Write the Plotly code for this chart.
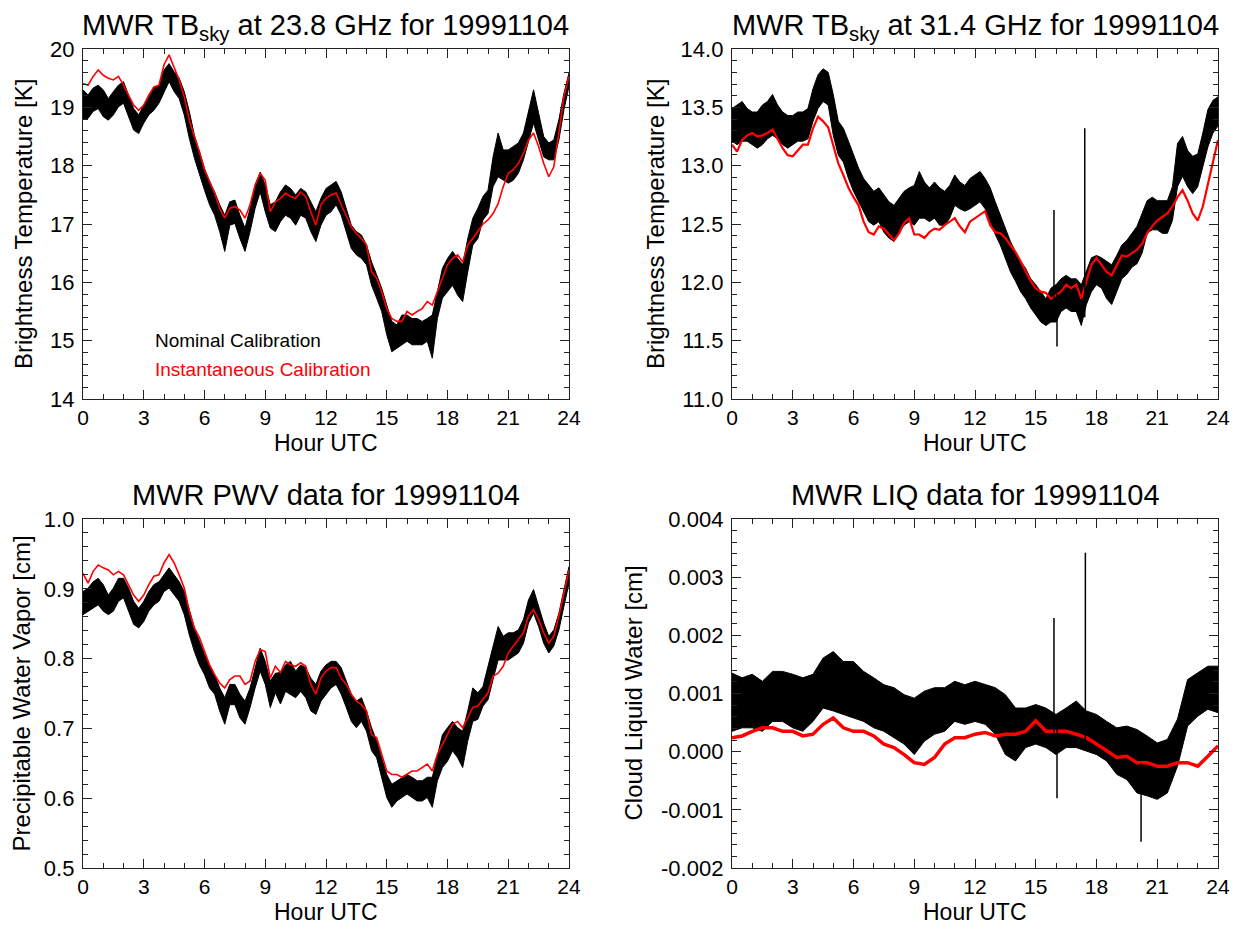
import numpy as np
import plotly.graph_objects as go

# ---------------- data ----------------
hours = np.arange(0, 24.01, 0.25)          # 0.25 h grid for panels 1-3
hours_liq = np.arange(0, 24.01, 0.5)       # 0.5 h grid for panel 4

# Panel 1: TBsky 23.8 GHz [K]  (nominal calibration shown as min/max envelope)
tb23_nom_hi = [19.30, 19.21, 19.33, 19.38, 19.30, 19.15, 19.27, 19.38,
               19.44, 19.21, 18.98, 18.87, 19.04, 19.18, 19.33, 19.38,
               19.64, 19.75, 19.61, 19.50, 19.27, 18.93, 18.52, 18.24,
               17.95, 17.73, 17.55, 17.33, 17.15, 17.38, 17.41, 17.15,
               16.93, 17.27, 17.67, 17.89, 17.67, 17.33, 17.38, 17.55,
               17.67, 17.61, 17.50, 17.61, 17.55, 17.38, 17.21, 17.44,
               17.61, 17.67, 17.73, 17.55, 17.27, 16.98, 16.87, 16.81,
               16.64, 16.35, 16.13, 15.90, 15.61, 15.33, 15.27, 15.44,
               15.44, 15.38, 15.38, 15.33, 15.38, 15.44, 15.84, 16.24,
               16.41, 16.53, 16.41, 16.30, 16.75, 17.10, 17.27, 17.47,
               17.58, 18.15, 18.56, 18.27, 18.27, 18.33, 18.39, 18.56,
               18.96, 19.30, 18.90, 18.50, 18.39, 18.44, 18.79, 19.24,
               19.59]
tb23_nom_lo = [18.80, 18.81, 18.93, 18.98, 18.84, 18.78, 18.87, 19.01,
               19.07, 18.84, 18.61, 18.55, 18.73, 18.87, 18.95, 19.07,
               19.27, 19.44, 19.27, 19.15, 18.87, 18.47, 18.13, 17.84,
               17.58, 17.33, 17.15, 16.87, 16.53, 16.98, 17.01, 16.75,
               16.53, 16.87, 17.27, 17.55, 17.21, 16.93, 16.87, 17.04,
               17.15, 17.10, 16.98, 17.15, 17.10, 16.87, 16.70, 16.98,
               17.15, 17.21, 17.33, 17.15, 16.87, 16.58, 16.47, 16.41,
               16.30, 15.95, 15.73, 15.50, 15.10, 14.81, 14.87, 14.93,
               14.99, 14.93, 14.93, 14.93, 14.99, 14.70, 15.38, 15.73,
               15.84, 15.95, 15.78, 15.67, 16.18, 16.64, 16.75, 17.07,
               17.18, 17.64, 17.81, 17.75, 17.70, 17.75, 17.87, 18.10,
               18.44, 18.73, 18.44, 18.15, 18.10, 18.10, 18.44, 18.96,
               19.36]
tb23_inst = [19.41, 19.38, 19.53, 19.64, 19.55, 19.50, 19.47, 19.53,
             19.38, 19.21, 19.04, 18.95, 19.04, 19.21, 19.35, 19.38,
             19.73, 19.90, 19.67, 19.47, 19.18, 18.78, 18.50, 18.24,
             17.93, 17.73, 17.53, 17.27, 17.10, 17.27, 17.30, 17.24,
             17.10, 17.33, 17.67, 17.87, 17.75, 17.21, 17.38, 17.44,
             17.53, 17.47, 17.44, 17.55, 17.47, 17.21, 16.98, 17.33,
             17.44, 17.50, 17.53, 17.33, 17.15, 16.95, 16.84, 16.75,
             16.64, 16.18, 16.07, 15.84, 15.55, 15.38, 15.33, 15.33,
             15.50, 15.44, 15.50, 15.55, 15.67, 15.61, 15.84, 16.07,
             16.30, 16.41, 16.47, 16.35, 16.64, 16.75, 16.87, 17.00,
             17.07, 17.18, 17.35, 17.64, 17.87, 17.93, 18.04, 18.21,
             18.44, 18.56, 18.33, 18.04, 17.81, 17.98, 18.56, 19.19,
             19.53]

# Panel 2: TBsky 31.4 GHz [K]
tb31_nom_hi = [13.49, 13.52, 13.55, 13.49, 13.46, 13.46, 13.52, 13.55,
               13.61, 13.52, 13.46, 13.43, 13.43, 13.46, 13.46, 13.49,
               13.66, 13.78, 13.83, 13.80, 13.61, 13.38, 13.32, 13.21,
               13.09, 12.98, 12.89, 12.83, 12.78, 12.81, 12.75, 12.69,
               12.66, 12.72, 12.78, 12.81, 12.83, 12.95, 12.86, 12.81,
               12.86, 12.81, 12.78, 12.83, 12.92, 12.86, 12.83, 12.89,
               12.92, 12.95, 12.89, 12.81, 12.69, 12.58, 12.46, 12.35,
               12.26, 12.18, 12.12, 12.03, 11.98, 11.92, 11.86, 11.95,
               11.98, 12.03, 12.06, 12.03, 12.03, 11.98, 12.09, 12.21,
               12.23, 12.21, 12.18, 12.15, 12.23, 12.32, 12.36, 12.42,
               12.48, 12.59, 12.70, 12.73, 12.70, 12.70, 12.70, 12.82,
               13.19, 13.25, 13.13, 13.08, 13.10, 13.28, 13.48, 13.56,
               13.59]
tb31_nom_lo = [13.21, 13.18, 13.21, 13.21, 13.18, 13.15, 13.18, 13.23,
               13.26, 13.23, 13.18, 13.15, 13.18, 13.21, 13.21, 13.23,
               13.38, 13.49, 13.55, 13.52, 13.26, 13.09, 13.03, 12.89,
               12.78, 12.69, 12.61, 12.52, 12.49, 12.52, 12.43, 12.38,
               12.35, 12.43, 12.49, 12.52, 12.49, 12.55, 12.55, 12.52,
               12.55, 12.49, 12.49, 12.55, 12.66, 12.63, 12.61, 12.63,
               12.66, 12.69, 12.63, 12.52, 12.41, 12.32, 12.21, 12.09,
               12.01, 11.92, 11.86, 11.78, 11.72, 11.66, 11.63, 11.66,
               11.66, 11.75, 11.78, 11.75, 11.75, 11.63, 11.81, 11.92,
               11.98, 11.95, 11.86, 11.81, 11.92, 12.03, 12.07, 12.13,
               12.16, 12.25, 12.42, 12.45, 12.45, 12.42, 12.42, 12.53,
               12.82, 12.91, 12.82, 12.76, 12.82, 12.99, 13.16, 13.28,
               13.34]
tb31_inst = [13.18, 13.12, 13.22, 13.26, 13.28, 13.25, 13.26, 13.28,
             13.31, 13.23, 13.15, 13.09, 13.08, 13.13, 13.18, 13.18,
             13.32, 13.42, 13.38, 13.33, 13.18, 13.02, 12.92, 12.81,
             12.73, 12.66, 12.52, 12.43, 12.41, 12.48, 12.46, 12.41,
             12.36, 12.42, 12.51, 12.55, 12.41, 12.41, 12.38, 12.43,
             12.46, 12.45, 12.49, 12.52, 12.55, 12.48, 12.43, 12.52,
             12.55, 12.58, 12.61, 12.49, 12.43, 12.42, 12.38, 12.32,
             12.26, 12.18, 12.09, 12.01, 11.95, 11.92, 11.91, 11.86,
             11.89, 11.92, 11.98, 11.95, 11.98, 11.86, 12.01, 12.15,
             12.21, 12.15, 12.09, 12.06, 12.15, 12.23, 12.22, 12.25,
             12.28, 12.33, 12.42, 12.48, 12.53, 12.56, 12.59, 12.65,
             12.73, 12.79, 12.70, 12.59, 12.53, 12.65, 12.85, 13.05,
             13.22]
tb31_spike_h = [15.9, 16.05, 17.42]
tb31_spike_lo = [11.75, 11.45, 11.70]
tb31_spike_hi = [12.62, 11.90, 13.32]

# Panel 3: PWV [cm]
pwv_nom_hi = [0.896, 0.901, 0.910, 0.915, 0.906, 0.891, 0.901, 0.915,
              0.915, 0.901, 0.882, 0.872, 0.882, 0.896, 0.906, 0.910,
              0.920, 0.930, 0.920, 0.910, 0.896, 0.868, 0.844, 0.825,
              0.806, 0.791, 0.777, 0.758, 0.744, 0.763, 0.763, 0.749,
              0.739, 0.758, 0.787, 0.815, 0.796, 0.768, 0.779, 0.780,
              0.791, 0.796, 0.782, 0.791, 0.787, 0.772, 0.763, 0.782,
              0.791, 0.796, 0.796, 0.787, 0.768, 0.749, 0.739, 0.744,
              0.725, 0.701, 0.682, 0.658, 0.634, 0.620, 0.625, 0.630,
              0.634, 0.630, 0.625, 0.625, 0.630, 0.630, 0.663, 0.691,
              0.701, 0.710, 0.701, 0.696, 0.725, 0.758, 0.751, 0.760,
              0.789, 0.818, 0.846, 0.832, 0.837, 0.837, 0.841, 0.856,
              0.884, 0.899, 0.875, 0.851, 0.832, 0.841, 0.865, 0.899,
              0.932]
pwv_nom_lo = [0.863, 0.868, 0.872, 0.877, 0.868, 0.863, 0.868, 0.882,
              0.887, 0.868, 0.849, 0.844, 0.853, 0.868, 0.877, 0.882,
              0.896, 0.901, 0.891, 0.882, 0.863, 0.834, 0.810, 0.791,
              0.777, 0.758, 0.749, 0.725, 0.706, 0.734, 0.734, 0.715,
              0.706, 0.730, 0.758, 0.782, 0.763, 0.730, 0.751, 0.735,
              0.753, 0.749, 0.744, 0.753, 0.744, 0.725, 0.720, 0.739,
              0.749, 0.758, 0.763, 0.749, 0.730, 0.710, 0.701, 0.710,
              0.696, 0.668, 0.658, 0.630, 0.601, 0.587, 0.596, 0.601,
              0.606, 0.601, 0.596, 0.596, 0.601, 0.587, 0.625, 0.644,
              0.653, 0.668, 0.658, 0.644, 0.682, 0.710, 0.713, 0.732,
              0.741, 0.770, 0.798, 0.798, 0.798, 0.803, 0.808, 0.822,
              0.851, 0.865, 0.846, 0.822, 0.808, 0.818, 0.841, 0.875,
              0.908]
pwv_inst = [0.922, 0.908, 0.925, 0.934, 0.930, 0.927, 0.920, 0.925,
            0.920, 0.906, 0.891, 0.882, 0.891, 0.906, 0.918, 0.920,
            0.937, 0.949, 0.937, 0.920, 0.901, 0.868, 0.844, 0.830,
            0.810, 0.791, 0.777, 0.765, 0.758, 0.770, 0.775, 0.775,
            0.763, 0.768, 0.796, 0.813, 0.810, 0.772, 0.789, 0.780,
            0.796, 0.791, 0.789, 0.794, 0.789, 0.763, 0.749, 0.772,
            0.782, 0.787, 0.787, 0.772, 0.763, 0.749, 0.739, 0.734,
            0.725, 0.691, 0.687, 0.663, 0.639, 0.634, 0.634, 0.630,
            0.634, 0.639, 0.639, 0.644, 0.649, 0.639, 0.663, 0.677,
            0.691, 0.706, 0.710, 0.701, 0.715, 0.730, 0.732, 0.741,
            0.751, 0.775, 0.779, 0.789, 0.808, 0.818, 0.827, 0.837,
            0.861, 0.870, 0.856, 0.837, 0.822, 0.832, 0.861, 0.894,
            0.927]

# Panel 4: LIQ [cm], values listed in units of 0.001 cm
liq_nom_hi_milli = [1.35, 1.27, 1.33, 1.21, 1.38, 1.38, 1.33, 1.27, 1.33, 1.61,
                    1.72, 1.55, 1.55, 1.38, 1.27, 1.15, 1.10, 0.98, 0.92, 1.04,
                    1.10, 1.10, 1.21, 1.15, 1.21, 1.15, 1.10, 0.98, 0.75, 0.75,
                    0.81, 0.75, 0.64, 0.75, 0.87, 0.70, 0.64, 0.52, 0.41, 0.44,
                    0.38, 0.27, 0.15, 0.21, 0.56, 1.24, 1.36, 1.47, 1.47]
liq_nom_lo_milli = [0.35, 0.41, 0.41, 0.35, 0.52, 0.52, 0.41, 0.35, 0.52, 0.75,
                    0.70, 0.64, 0.58, 0.52, 0.41, 0.35, 0.24, 0.13, -0.05, 0.18,
                    0.30, 0.35, 0.52, 0.47, 0.52, 0.47, 0.30, -0.05, -0.16, 0.07,
                    0.13, 0.07, -0.05, 0.07, 0.07, 0.01, -0.05, -0.16, -0.39, -0.48,
                    -0.71, -0.76, -0.82, -0.71, -0.25, 0.44, 0.61, 0.73, 0.67]
liq_inst_milli = [0.24, 0.27, 0.35, 0.41, 0.41, 0.35, 0.35, 0.27, 0.30, 0.47,
                  0.58, 0.41, 0.35, 0.35, 0.27, 0.13, 0.07, -0.05, -0.19, -0.22,
                  -0.10, 0.13, 0.24, 0.24, 0.30, 0.33, 0.27, 0.30, 0.30, 0.35,
                  0.53, 0.35, 0.35, 0.35, 0.30, 0.24, 0.13, 0.01, -0.10, -0.08,
                  -0.19, -0.19, -0.25, -0.25, -0.19, -0.19, -0.25, -0.08, 0.10]
liq_spike_h = [15.9, 16.05, 17.45, 20.2]
liq_spike_lo_milli = [0.2, -0.8, 0.2, -1.55]
liq_spike_hi_milli = [2.3, 0.6, 3.42, -0.2]

liq_nom_hi = [v * 1e-3 for v in liq_nom_hi_milli]
liq_nom_lo = [v * 1e-3 for v in liq_nom_lo_milli]
liq_inst = [v * 1e-3 for v in liq_inst_milli]
liq_spike_lo = [v * 1e-3 for v in liq_spike_lo_milli]
liq_spike_hi = [v * 1e-3 for v in liq_spike_hi_milli]

# tick labels
x_ticks = [0, 3, 6, 9, 12, 15, 18, 21, 24]
y1_ticks = [14, 15, 16, 17, 18, 19, 20]
y1_text = ["14", "15", "16", "17", "18", "19", "20"]
y2_ticks = [11.0, 11.5, 12.0, 12.5, 13.0, 13.5, 14.0]
y2_text = ["11.0", "11.5", "12.0", "12.5", "13.0", "13.5", "14.0"]
y3_ticks = [0.5, 0.6, 0.7, 0.8, 0.9, 1.0]
y3_text = ["0.5", "0.6", "0.7", "0.8", "0.9", "1.0"]
y4_ticks = [-0.002, -0.001, 0.0, 0.001, 0.002, 0.003, 0.004]
y4_text = ["-0.002", "-0.001", "0.000", "0.001", "0.002", "0.003", "0.004"]

titles = ["MWR TB<sub>sky</sub> at 23.8 GHz for 19991104",
          "MWR TB<sub>sky</sub> at 31.4 GHz for 19991104",
          "MWR PWV data for 19991104",
          "MWR LIQ data for 19991104"]
y_titles = ["Brightness Temperature [K]", "Brightness Temperature [K]",
            "Precipitable Water Vapor [cm]", "Cloud Liquid Water [cm]"]
x_title = "Hour UTC"

# ---------------- figure ----------------
FONT = "Liberation Sans, Arial, Helvetica, sans-serif"
W, H = 1233, 925
fig = go.Figure()

# plot-area edges in page pixels
X_EDGES = [(83, 569), (732, 1218)]
Y_EDGES = [(49, 399), (519, 868)]


def px(xp):
    return xp / W


def py(yp):
    return 1 - yp / H


xdom = [[px(a), px(b)] for a, b in X_EDGES]
ydom = [[py(b), py(a)] for a, b in Y_EDGES]

panels = [
    dict(xa="x", ya="y", t=hours, hi=tb23_nom_hi, lo=tb23_nom_lo, red=tb23_inst,
         sp=None, rw=1.6),
    dict(xa="x2", ya="y2", t=hours, hi=tb31_nom_hi, lo=tb31_nom_lo, red=tb31_inst,
         sp=(tb31_spike_h, tb31_spike_lo, tb31_spike_hi), rw=2.2),
    dict(xa="x3", ya="y3", t=hours, hi=pwv_nom_hi, lo=pwv_nom_lo, red=pwv_inst,
         sp=None, rw=1.6),
    dict(xa="x4", ya="y4", t=hours_liq, hi=liq_nom_hi, lo=liq_nom_lo, red=liq_inst,
         sp=(liq_spike_h, liq_spike_lo, liq_spike_hi), rw=3.5),
]

for p in panels:
    fig.add_trace(go.Scatter(x=p["t"], y=p["lo"], xaxis=p["xa"], yaxis=p["ya"],
                             mode="lines", line=dict(color="black", width=1),
                             showlegend=False, hoverinfo="skip"))
    fig.add_trace(go.Scatter(x=p["t"], y=p["hi"], xaxis=p["xa"], yaxis=p["ya"],
                             mode="lines", line=dict(color="black", width=1),
                             fill="tonexty", fillcolor="black",
                             showlegend=False, hoverinfo="skip"))
    fig.add_trace(go.Scatter(x=p["t"], y=p["red"], xaxis=p["xa"], yaxis=p["ya"],
                             mode="lines", line=dict(color="#ff0000", width=p["rw"]),
                             showlegend=False, hoverinfo="skip"))
    if p["sp"] is not None:
        sx, sy = [], []
        for h, lo, hi in zip(*p["sp"]):
            sx += [h, h, None]
            sy += [lo, hi, None]
        fig.add_trace(go.Scatter(x=sx, y=sy, xaxis=p["xa"], yaxis=p["ya"],
                                 mode="lines", line=dict(color="black", width=1.5),
                                 showlegend=False, hoverinfo="skip"))

axis_common = dict(showline=True, linecolor="#222", linewidth=1.2, mirror="allticks",
                   ticks="inside", ticklen=9, tickwidth=1, tickcolor="#222",
                   showgrid=False, zeroline=False, automargin=False,
                   tickfont=dict(family=FONT, size=22, color="black"))

y_specs = [
    ([14, 20], y1_ticks, y1_text, 0.2),
    ([11, 14], y2_ticks, y2_text, 0.1),
    ([0.5, 1.0], y3_ticks, y3_text, 0.02),
    ([-0.002, 0.004], y4_ticks, y4_text, 0.0002),
]

layout_axes = {}
for i in range(4):
    col = i % 2
    row = i // 2
    sfx = "" if i == 0 else str(i + 1)
    layout_axes["xaxis" + sfx] = dict(
        axis_common, domain=xdom[col], anchor="y" + sfx, range=[0, 24],
        tickmode="array", tickvals=x_ticks, ticklabelstandoff=0,
        tickfont=dict(family=FONT, size=21, color="black"),
        minor=dict(ticks="inside", ticklen=5, dtick=1, tick0=0, tickcolor="#222",
                   showgrid=False),
    )
    rng, tv, tt, mdt = y_specs[i]
    layout_axes["yaxis" + sfx] = dict(
        axis_common, domain=ydom[row], anchor="x" + sfx, range=rng,
        tickmode="array", tickvals=tv, ticktext=tt, ticklabelstandoff=3,
        minor=dict(ticks="inside", ticklen=5, dtick=mdt, tick0=rng[0], tickcolor="#222",
                   showgrid=False),
    )

annotations = []
title_py = [27, 27, 495, 495]
ytitle_px = [24, 656, 21, 633]
for i in range(4):
    col = i % 2
    row = i // 2
    xa, xb = X_EDGES[col]
    ya, yb = Y_EDGES[row]
    annotations.append(dict(text=titles[i], xref="paper", yref="paper",
                            x=px((xa + xb) / 2), y=py(title_py[i]),
                            xanchor="center", yanchor="middle", showarrow=False,
                            font=dict(family=FONT, size=29, color="black")))
    annotations.append(dict(text=x_title, xref="paper", yref="paper",
                            x=px((xa + xb) / 2), y=py(yb + 44),
                            xanchor="center", yanchor="middle", showarrow=False,
                            borderpad=0,
                            font=dict(family=FONT, size=23, color="black")))
    annotations.append(dict(text=y_titles[i], xref="paper", yref="paper",
                            x=px(ytitle_px[i]), y=py((ya + yb) / 2),
                            xanchor="center", yanchor="middle", showarrow=False,
                            textangle=-90,
                            font=dict(family=FONT, size=24, color="black")))

annotations.append(dict(text="Nominal Calibration", xref="x", yref="y",
                        x=3.45, y=15.0, xanchor="left", yanchor="middle",
                        showarrow=False, font=dict(family=FONT, size=19, color="black")))
annotations.append(dict(text="Instantaneous Calibration", xref="x", yref="y",
                        x=3.45, y=14.5, xanchor="left", yanchor="middle",
                        showarrow=False, font=dict(family=FONT, size=19, color="#ff0000")))

fig.update_layout(width=W, height=H, autosize=False,
                  margin=dict(l=0, r=0, t=0, b=0),
                  paper_bgcolor="white", plot_bgcolor="white",
                  font=dict(family=FONT, color="black"),
                  annotations=annotations, **layout_axes)

# remove the browser's default 8px page margin so the figure fills the window
fig.write_html("out.html",
               config={"displayModeBar": False, "staticPlot": True},
               post_script="document.body.style.margin='0';"
                           "document.body.style.overflow='hidden';")
